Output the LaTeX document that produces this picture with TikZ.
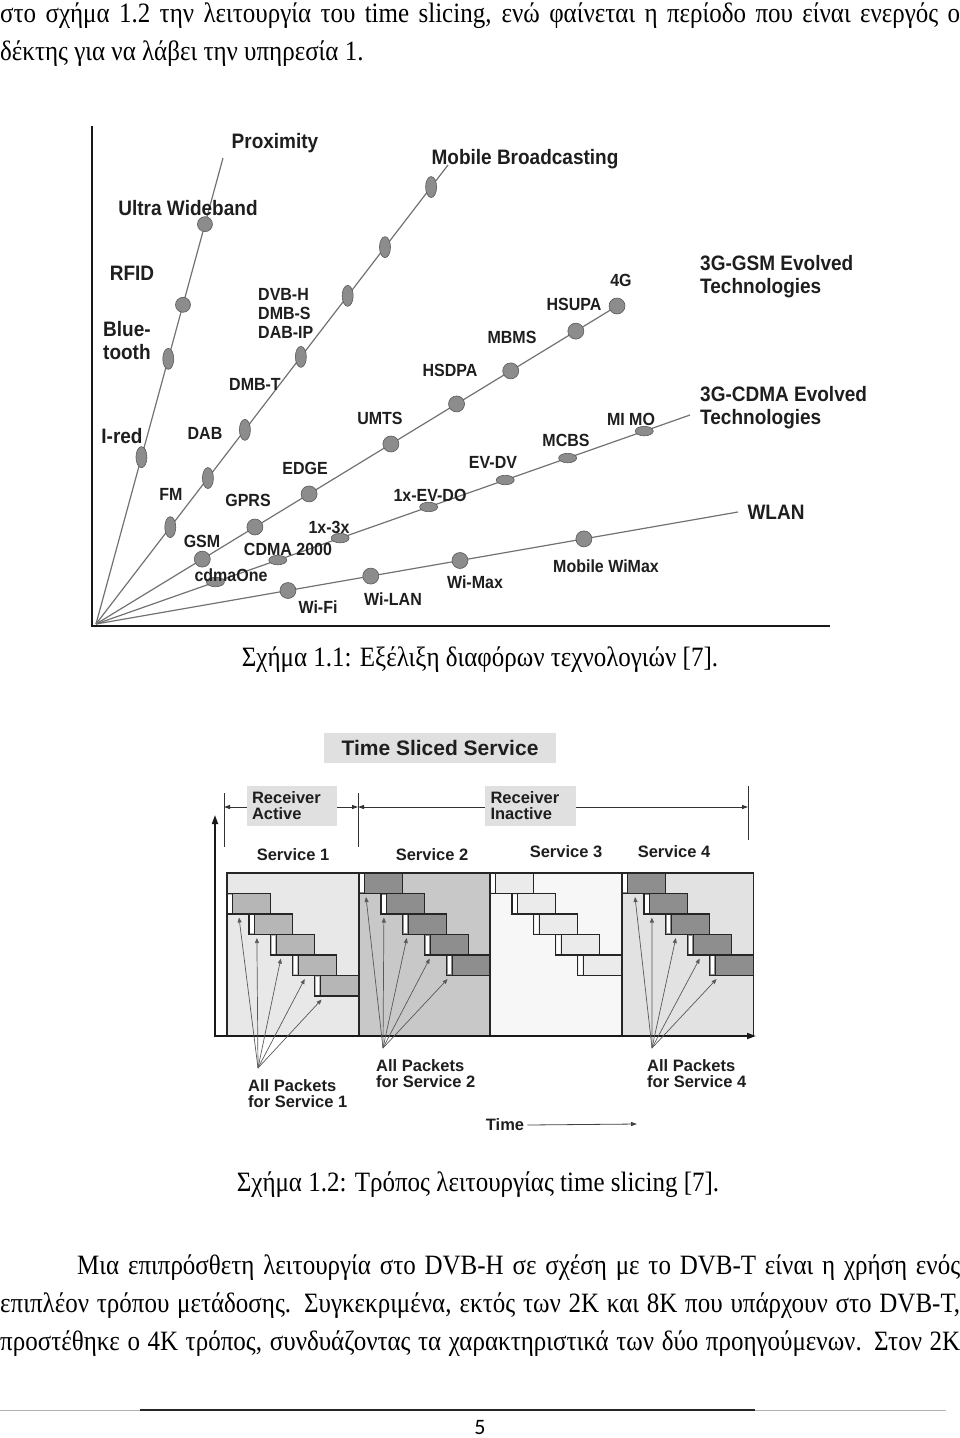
\documentclass[tikz,border=0pt]{standalone}
\usepackage{fontspec}
\setmainfont{Liberation Serif}
\setsansfont{Liberation Sans}
\newfontfamily\pnumfont{Carlito}
\usetikzlibrary{shapes.geometric,calc,arrows.meta}
\definecolor{txt}{HTML}{1E1E1E}
\definecolor{rayc}{HTML}{727272}
\definecolor{dotf}{HTML}{8C8C8C}
\definecolor{dotd}{HTML}{5A5A5A}
\definecolor{cOnebg}{HTML}{E8E8E8}
\definecolor{cOnepk}{HTML}{B6B6B6}
\definecolor{cTwobg}{HTML}{C8C8C8}
\definecolor{cTwopk}{HTML}{8E8E8E}
\definecolor{cThrbg}{HTML}{F7F7F7}
\definecolor{cThrpk}{HTML}{EBEBEB}
\definecolor{cFourbg}{HTML}{E2E2E2}
\definecolor{cFourpk}{HTML}{8E8E8E}
\definecolor{boxg}{HTML}{E0E0E0}
\newcommand{\tallline}[2]{\scalebox{1}[1.12]{\makebox[#1][s]{#2}}}
\newcommand{\tallcap}[1]{\scalebox{1}[1.12]{#1}}
\newcommand{\tl}[1]{\scalebox{1}[1.1]{#1}}
\newcommand{\tlm}[1]{\scalebox{1}[1.1]{\begin{tabular}{@{}l@{}}#1\end{tabular}}}
\begin{document}
\begin{tikzpicture}[x=1pt,y=-1pt,
  body/.style={inner sep=0pt, anchor=base west, font=\fontsize{25}{28}\selectfont},
  capt/.style={inner sep=0pt, font=\fontsize{25}{28}\selectfont},
  ray/.style={draw=rayc, line width=1.2pt},
  vdot/.style={ellipse, fill=dotf, draw=dotd, line width=0.6pt, minimum width=11pt, minimum height=21pt, inner sep=0pt},
  cdot/.style={circle, fill=dotf, draw=dotd, line width=0.6pt, minimum size=16pt, inner sep=0pt},
  hdot/.style={ellipse, fill=dotf, draw=dotd, line width=0.6pt, minimum width=18pt, minimum height=9.5pt, inner sep=0pt},
  big/.style={inner sep=0pt, text=txt, font=\sffamily\bfseries\fontsize{19}{21}\selectfont},
  med/.style={inner sep=0pt, text=txt, font=\sffamily\bfseries\fontsize{16}{17.3}\selectfont},
  lbl/.style={inner sep=0pt, text=txt, font=\sffamily\bfseries\fontsize{16.5}{16}\selectfont, align=left},
  axis/.style={draw=black!90, line width=2.6pt},
  pkt/.style={draw=black!85, line width=1.3pt},
  colb/.style={draw=black!85, line width=1.8pt},
  parr/.style={draw=black!65, line width=0.7pt, -{Triangle[length=5pt,width=4pt]}},
  dim/.style={draw=black!80, line width=0.9pt}
]
\useasboundingbox (0,0) rectangle (960,1438);

% ---------- body text top ----------
\node[body] (t1) at (0,22) {\tallline{960pt}{στο σχήμα 1.2 την λειτουργία του time slicing, ενώ φαίνεται η περίοδο που είναι ενεργός ο}};
\node[body] (t2) at (0,60) {\tallcap{δέκτης για να λάβει την υπηρεσία 1.}};

% ---------- Figure 1.1 ----------
\coordinate (O) at (96,624);
\coordinate (R1) at (223,158);
\coordinate (R2) at (448,165);
\coordinate (R3) at (617,306);
\coordinate (R4) at (690,415);
\coordinate (R5) at (738,512);
\draw[ray] (O) -- (R1);
\draw[ray] (O) -- (R2);
\draw[ray] (O) -- (R3);
\draw[ray] (O) -- (R4);
\draw[ray] (O) -- (R5);
\draw[axis] (92,126) -- (92,626) -- (830,626);

% ray 1 dots
\node[cdot, minimum size=15pt] (uwb) at ($(O)!0.858!(R1)$) {};
\node[cdot, minimum size=15pt] (rfd) at ($(O)!0.685!(R1)$) {};
\node[vdot] (blt) at ($(O)!0.569!(R1)$) {};
\node[vdot] (ird) at ($(O)!0.358!(R1)$) {};
% ray 2 dots
\node[vdot] (b7) at ($(O)!0.952!(R2)$) {};
\node[vdot] (b6) at ($(O)!0.821!(R2)$) {};
\node[vdot] (b5) at ($(O)!0.715!(R2)$) {};
\node[vdot] (b4) at ($(O)!0.582!(R2)$) {};
\node[vdot] (b3) at ($(O)!0.423!(R2)$) {};
\node[vdot] (b2) at ($(O)!0.318!(R2)$) {};
\node[vdot] (b1) at ($(O)!0.211!(R2)$) {};
% ray 3 dots
\node[cdot] (g1) at ($(O)!0.204!(R3)$) {};
\node[cdot] (g2) at ($(O)!0.305!(R3)$) {};
\node[cdot] (g3) at ($(O)!0.409!(R3)$) {};
\node[cdot] (g4) at ($(O)!0.566!(R3)$) {};
\node[cdot] (g5) at ($(O)!0.692!(R3)$) {};
\node[cdot] (g6) at ($(O)!0.796!(R3)$) {};
\node[cdot] (g7) at ($(O)!0.921!(R3)$) {};
\node[cdot] (g8) at (R3) {};
% ray 4 dots
\node[hdot] (c1) at ($(O)!0.201!(R4)$) {};
\node[hdot] (c2) at ($(O)!0.306!(R4)$) {};
\node[hdot] (c3) at ($(O)!0.411!(R4)$) {};
\node[hdot] (c4) at ($(O)!0.560!(R4)$) {};
\node[hdot] (c5) at ($(O)!0.689!(R4)$) {};
\node[hdot] (c6) at ($(O)!0.794!(R4)$) {};
\node[hdot] (c7) at ($(O)!0.923!(R4)$) {};
% ray 5 dots
\node[cdot] (w1) at ($(O)!0.299!(R5)$) {};
\node[cdot] (w2) at ($(O)!0.428!(R5)$) {};
\node[cdot] (w3) at ($(O)!0.567!(R5)$) {};
\node[cdot] (w4) at ($(O)!0.760!(R5)$) {};

% labels fig 1.1
\node[big] (lprox) at (275,143) {\tl{Proximity}};
\node[big] (luwb) at (188,208) {\tl{Ultra Wideband}};
\node[big] (lrfid) at (132,273) {\tl{RFID}};
\node[big, anchor=west] (lblue) at (103,343.5) {\tlm{Blue-\\tooth}};
\node[big] (lired) at (122,436) {\tl{I-red}};
\node[big] (lmob) at (525,159) {\tl{Mobile Broadcasting}};
\node[med, anchor=west] (ldvb) at (258,316) {\tlm{DVB-H\\DMB-S\\DAB-IP}};
\node[med] (ldmbt) at (255,384) {\tl{DMB-T}};
\node[med] (ldab) at (205,433) {\tl{DAB}};
\node[med] (lfm) at (171,494) {\tl{FM}};
\node[med] (lgsm) at (202,541) {\tl{GSM}};
\node[med] (lgprs) at (248,500) {\tl{GPRS}};
\node[med] (ledge) at (305,468) {\tl{EDGE}};
\node[med] (lumts) at (380,418) {\tl{UMTS}};
\node[med] (lhsdpa) at (450,370) {\tl{HSDPA}};
\node[med] (lmbms) at (512,337) {\tl{MBMS}};
\node[med] (lhsupa) at (574,304) {\tl{HSUPA}};
\node[med] (l4g) at (621,280) {\tl{4G}};
\node[big, anchor=west] (lgsmevo) at (700,277) {\tlm{3G-GSM Evolved\\Technologies}};
\node[big, anchor=west] (lcdmaevo) at (700,408) {\tlm{3G-CDMA Evolved\\Technologies}};
\node[med] (lmimo) at (631,419) {\tl{MI MO}};
\node[med] (lmcbs) at (566,440) {\tl{MCBS}};
\node[med] (levdv) at (493,462) {\tl{EV-DV}};
\node[med] (levdo) at (430,495) {\tl{1x-EV-DO}};
\node[med] (l1x3x) at (329,527) {\tl{1x-3x}};
\node[med] (lcdma) at (288,549) {\tl{CDMA 2000}};
\node[med] (lcdmaone) at (231,575) {\tl{cdmaOne}};
\node[med] (lwifi) at (318,607) {\tl{Wi-Fi}};
\node[med] (lwilan) at (393,599) {\tl{Wi-LAN}};
\node[med] (lwimax) at (475,582) {\tl{Wi-Max}};
\node[med] (lmwimax) at (606,566) {\tl{Mobile WiMax}};
\node[big] (lwlan) at (776,512) {\tl{WLAN}};

\node[capt] (cap1) at (480,660) {\tallcap{Σχήμα 1.1: Εξέλιξη διαφόρων τεχνολογιών [7].}};

% ---------- Figure 1.2 ----------
\node[big, fill=boxg, minimum width=232pt, minimum height=30pt, font=\sffamily\bfseries\fontsize{21}{22}\selectfont] (title) at (440,748) {Time Sliced Service};

% dimension lines
\draw[dim] (224,793) -- (224,847);
\draw[dim] (358,793) -- (358,847);
\draw[dim] (748,786) -- (748,840);
\coordinate (d1) at (224,807);
\coordinate (d2) at (358,807);
\coordinate (d3) at (748,807);
\draw[dim, {Triangle[length=6pt,width=4pt]}-{Triangle[length=6pt,width=4pt]}] (d1) -- (d2);
\draw[dim, {Triangle[length=6pt,width=4pt]}-{Triangle[length=6pt,width=4pt]}] (d2) -- (d3);
\node[lbl, fill=boxg, minimum width=90pt, minimum height=40pt, text width=80pt] (ra) at (292,806) {Receiver\\Active};
\node[lbl, fill=boxg, minimum width=91pt, minimum height=40pt, text width=80pt] (ri) at (530.5,806) {Receiver\\Inactive};

\node[lbl] (s1) at (293,855) {Service 1};
\node[lbl] (s2) at (432,855) {Service 2};
\node[lbl] (s3) at (566,852) {Service 3};
\node[lbl] (s4) at (674,852) {Service 4};

% columns
\foreach \L/\ro/\bg/\pk in {227/1/cOnebg/cOnepk, 359/0/cTwobg/cTwopk, 490/0/cThrbg/cThrpk, 622/0/cFourbg/cFourpk} {
  \fill[\bg] (\L,873) rectangle ++(131.4,163);
  \foreach \k in {0,...,4} {
    \pgfmathsetmacro\xa{\L+\k*21.9}
    \pgfmathsetmacro\ya{873+(\k+\ro)*20.5}
    \path[pkt, fill=\pk] (\xa,\ya) rectangle ({\xa+43.8},{\ya+20.5});
    \fill[white] ({\xa+1.4},{\ya+1.2}) rectangle ({\xa+4.6},{\ya+19.3});
    \draw[line width=1pt, black!85] ({\xa+5.6},\ya) -- ({\xa+5.6},{\ya+20.5});
  }
}
\foreach \L in {227,359,490,622} {
  \draw[colb] (\L,873) rectangle ++(131.4,163);
}

% axes
\draw[draw=black!90, line width=1.8pt, -{Triangle[length=9pt,width=6pt]}] (215,1036) -- (215,815);
\draw[draw=black!90, line width=1.8pt, -{Triangle[length=9pt,width=6pt]}] (214,1036) -- (756,1036);

% packet arrows
\coordinate (p1) at (258,1068);
\coordinate (p2) at (383,1048);
\coordinate (p4) at (652,1048);
\foreach \k/\o in {0/12,1/8,2/10,3/12,4/7} {
  \coordinate (a1\k) at ({227+\k*21.9+\o},{873+(\k+2)*20.5+3.5});
  \draw[parr] (p1) -- (a1\k);
}
\foreach \k/\o in {0/7,1/3,2/4,3/5,4/1} {
  \coordinate (a2\k) at ({359+\k*21.9+\o},{873+(\k+1)*20.5+3.5});
  \draw[parr] (p2) -- (a2\k);
}
\foreach \k/\o in {0/13,1/8,2/10,3/12,4/7} {
  \coordinate (a4\k) at ({622+\k*21.9+\o},{873+(\k+1)*20.5+3.5});
  \draw[parr] (p4) -- (a4\k);
}

\node[lbl, anchor=west] (ap1) at (248,1094) {All Packets\\for Service 1};
\node[lbl, anchor=west] (ap2) at (376,1074) {All Packets\\for Service 2};
\node[lbl, anchor=west] (ap4) at (647,1074) {All Packets\\for Service 4};

\node[lbl] (time) at (505,1125) {Time};
\coordinate (tend) at (637,1124);
\draw[draw=black!75, line width=0.8pt, -{Triangle[length=6pt,width=4pt]}] (time.east) ++(3,0) -- (tend);

\node[capt] (cap2) at (478,1185) {\tallcap{Σχήμα 1.2: Τρόπος λειτουργίας time slicing [7].}};

% ---------- body text bottom ----------
\node[body] (b1l) at (77,1274) {\tallline{883pt}{Μια επιπρόσθετη λειτουργία στο DVB-H σε σχέση με το DVB-T είναι η χρήση ενός}};
\node[body] (b2l) at (0,1312) {\tallline{960pt}{επιπλέον τρόπου μετάδοσης. Συγκεκριμένα, εκτός των 2K και 8K που υπάρχουν στο DVB-T,}};
\node[body] (b3l) at (0,1350) {\tallline{960pt}{προστέθηκε ο 4K τρόπος, συνδυάζοντας τα χαρακτηριστικά των δύο προηγούμενων. Στον 2K}};

% footer
\coordinate (fl) at (0,1410);
\coordinate (fr) at (946,1410);
\draw[gray!60, line width=0.6pt] (fl) -- (fr);
\draw[black!85, line width=1.2pt] (140,1410) -- (755,1410);
\node[inner sep=0pt, font=\pnumfont\fontsize{22}{22}\selectfont] (pg) at (480,1427) {5};
\end{tikzpicture}
\end{document}
